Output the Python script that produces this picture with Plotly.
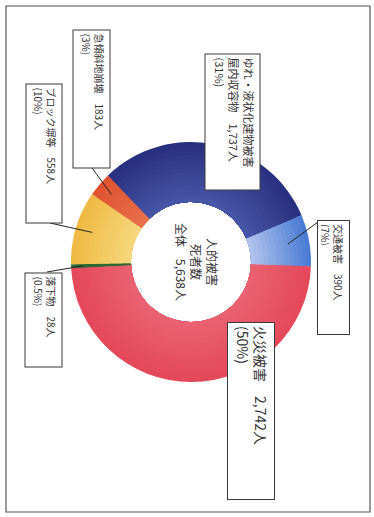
import math
import plotly.graph_objects as go

# Death toll by cause (people)
categories = ["火災被害", "落下物", "ブロック塀等", "急傾斜地崩壊",
              "ゆれ・液状化建物被害<br>屋内収容物", "交通被害"]
deaths = [2742, 28, 558, 183, 1737, 390]
share_labels = ["50%", "0.5%", "10%", "3%", "31%", "7%"]
total_deaths = 5638
# slice colours at the outer rim and at the inner edge of the ring
outer_colors = ["#e4485a", "#2e6a35", "#efb942", "#df5230", "#272f7d", "#4679d2"]
inner_colors = ["#ea6272", "#2e6a35", "#f6d77c", "#e8714b", "#4856a8", "#b3c4ee"]

W, H = 374, 517
CX, CY, R = 191, 262, 120      # donut centre / radius in pixels
R_IN = 60                      # hole radius in pixels
START = 92                     # degrees clockwise from 12 o'clock
N_RINGS = 14                   # concentric bands used for the shading


def px(x):
    return x / W


def py(y):
    return 1 - y / H


def mix(c1, c2, t):
    a = [int(c1[k:k + 2], 16) for k in (1, 3, 5)]
    b = [int(c2[k:k + 2], 16) for k in (1, 3, 5)]
    return "#" + "".join(f"{round(p + (q - p) * t):02x}" for p, q in zip(a, b))


fig = go.Figure()
labels = [c.replace("<br>", " ") for c in categories]
for k in range(N_RINGS):
    r_out = R - (R - R_IN) * k / N_RINGS
    t = (k + 0.5) / N_RINGS            # 0 = rim, 1 = inner edge
    fig.add_trace(go.Pie(
        labels=labels,
        values=deaths,
        sort=False,
        direction="clockwise",
        rotation=START,
        hole=R_IN / r_out,
        marker=dict(colors=[mix(o, i, t) for o, i in zip(outer_colors, inner_colors)],
                    line=dict(width=0)),
        textinfo="none",
        hoverinfo="label+value" if k == 0 else "skip",
        showlegend=False,
        domain=dict(x=[px(CX - r_out), px(CX + r_out)],
                    y=[py(CY + r_out), py(CY - r_out)]),
    ))


def slice_point(i, frac):
    """Pixel position inside slice i at its mid angle, frac of the radius."""
    before = sum(deaths[:i])
    mid = START + 360 * (before + deaths[i] / 2) / sum(deaths)
    a = math.radians(mid)
    return CX + frac * R * math.sin(a), CY - frac * R * math.cos(a)


# Label boxes: (left, top, right, bottom) in pixels, font size, leader start
boxes = {
    0: ((227, 322, 275, 500), 14, None),
    1: ((25, 272, 63, 367), 10, (47, 272)),
    2: ((26, 83, 63, 223), 10, (50, 223)),
    3: ((72, 29, 110, 168), 10, (92, 168)),
    4: ((204, 53, 260, 190), 11, None),
    5: ((317, 220, 350, 335), 10, (318, 222)),
}
leader_depth = {1: 0.9, 2: 0.86, 3: 0.87, 5: 0.82}

FONT = "Noto Sans CJK JP"
BW, PAD = 1, 3
annotations = []
shapes = []
for i, ((x0, y0, x1, y1), fs, start) in boxes.items():
    text = f"{categories[i]}　{deaths[i]:,}人<br>({share_labels[i]})"
    # rotated 90°: the box's text width runs down the page
    annotations.append(dict(
        xref="paper", yref="paper",
        x=px((x0 + x1) / 2), y=py((y0 + y1) / 2),
        xanchor="center", yanchor="middle",
        text=text, textangle=90, showarrow=False,
        width=(y1 - y0) - 2 * (BW + PAD), height=(x1 - x0) - 2 * (BW + PAD),
        align="left", valign="top",
        bordercolor="#3a3a3a", borderwidth=BW, borderpad=PAD,
        bgcolor="white",
        font=dict(family=FONT, size=fs, color="#333333"),
    ))
    if start is not None:
        ex, ey = slice_point(i, leader_depth[i])
        shapes.append(dict(type="line", xref="paper", yref="paper",
                           x0=px(start[0]), y0=py(start[1]),
                           x1=px(ex), y1=py(ey),
                           line=dict(color="#222222", width=1)))

# Centre caption
annotations.append(dict(
    xref="paper", yref="paper", x=px(197), y=py(262),
    xanchor="center", yanchor="middle",
    text=f"人的被害<br>死者数<br>全体　{total_deaths:,}人",
    textangle=90, showarrow=False, align="center",
    font=dict(family=FONT, size=12, color="#333333"),
))

# Outer frame
shapes.append(dict(type="rect", xref="paper", yref="paper",
                   x0=px(6), y0=py(512), x1=px(370), y1=py(6),
                   line=dict(color="#555555", width=1.2)))

fig.update_layout(
    width=W, height=H,
    margin=dict(l=0, r=0, t=0, b=0),
    paper_bgcolor="white", plot_bgcolor="white",
    annotations=annotations, shapes=shapes,
)

fig.write_html("out.html")
